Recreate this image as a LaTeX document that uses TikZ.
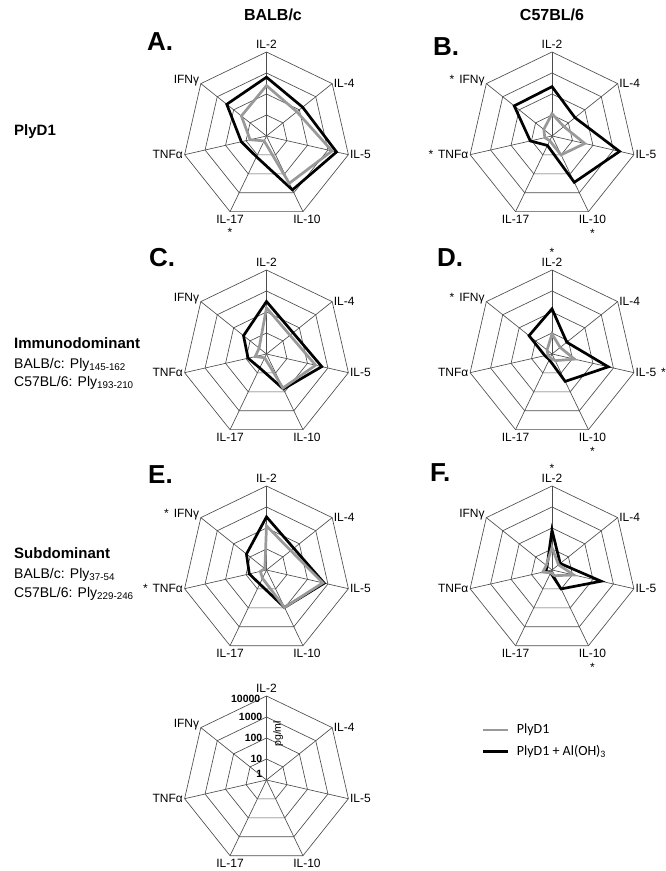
\documentclass[tikz,border=0pt]{standalone}
\usepackage{fontspec}
\setmainfont{Liberation Sans}
\newfontfamily\legendfont{Carlito}
\usetikzlibrary{positioning}

\begin{document}
\begin{tikzpicture}[
    x=1pt, y=1pt,
    grid/.style={draw=gray!60!black, line width=0.65pt},
    axlabel/.style={font=\fontsize{12}{14}\selectfont, inner sep=1.5pt},
    starmark/.style={font=\fontsize{12}{14}\selectfont, inner sep=0pt},
    plain/.style={draw=gray!80, line width=2.7pt},
    alum/.style={draw=black, line width=2.7pt},
    panel/.style={font=\fontsize{26}{28}\selectfont\bfseries, anchor=west, inner sep=0pt},
    strain/.style={font=\fontsize{16}{18}\selectfont\bfseries},
    group/.style={font=\fontsize{15}{17}\selectfont\bfseries, anchor=west, inner sep=0pt},
    peptide/.style={font=\fontsize{14}{16}\selectfont, anchor=west, inner sep=0pt},
    scalelabel/.style={font=\fontsize{10.5}{12}\selectfont\bfseries, anchor=east, inner sep=1pt, xshift=-3pt},
    legend/.style={font={\legendfont\fontsize{14}{16}\selectfont}, anchor=west, inner sep=0pt}
]
    \useasboundingbox (0,0) rectangle (666,871);

    % Column and row headings
    \node[strain] (balb) at (273,856) {BALB/c};
    \node[strain] (c57) at (552,856) {C57BL/6};
    \node[group] (plyd1) at (14,739) {PlyD1};
    \node[group] (immuno) at (14,528) {Immunodominant};
    \node[peptide] (immuno-balb) at (14,506) {BALB/c: Ply\textsubscript{145-162}};
    \node[peptide] (immuno-c57) at (14,488) {C57BL/6: Ply\textsubscript{193-210}};
    \node[group] (sub) at (14,318) {Subdominant};
    \node[peptide] (sub-balb) at (14,296) {BALB/c: Ply\textsubscript{37-54}};
    \node[peptide] (sub-c57) at (14,277) {C57BL/6: Ply\textsubscript{229-246}};

    % Panel letters
    \node[panel] (lA) at (147,829) {A.};
    \node[panel] (lB) at (433,824) {B.};
    \node[panel] (lC) at (149,613) {C.};
    \node[panel] (lD) at (437,613) {D.};
    \node[panel] (lE) at (148,396) {E.};
    \node[panel] (lF) at (430,398) {F.};

    % Radar grids with axis labels
    \foreach \pn/\px/\py in {A/266.5/735, B/552/735, C/266.5/517, D/552/517, E/266.5/301, F/552/301, G/266.5/91} {
        \begin{scope}[shift={(\px pt,\py pt)}, x=21pt, y=21pt]
            \coordinate (\pn-c) at (0,0);
            \foreach \r in {1,...,4}
                \draw[grid] (90:\r) \foreach \k in {1,...,6} { -- (90-\k*360/7:\r) } -- cycle;
            \foreach \k in {0,...,6}
                \draw[grid] (\pn-c) -- (90-\k*360/7:4);
            \node[axlabel, anchor=south, yshift=1.5pt] (\pn-il2) at (90:4) {IL-2};
            \node[axlabel, anchor=west] (\pn-il4) at (38.57:4) {IL-4};
            \node[axlabel, anchor=west] (\pn-il5) at (-12.86:4) {IL-5};
            \node[axlabel, anchor=north, xshift=4pt, yshift=-2pt] (\pn-il10) at (-64.29:4) {IL-10};
            \node[axlabel, anchor=north, yshift=-2pt] (\pn-il17) at (-115.71:4) {IL-17};
            \node[axlabel, anchor=east] (\pn-tnf) at (-167.14:4) {TNFα};
            \node[axlabel, anchor=east, yshift=3pt] (\pn-ifn) at (141.43:4) {IFNγ};
        \end{scope}
    }

    % Panel A: PlyD1, BALB/c
    \begin{scope}[shift={(A-c)}, x=21pt, y=21pt]
        \draw[alum] (90:2.8) -- (38.57:2.2) -- (-12.86:3.42) -- (-64.29:2.85) -- (-115.71:1.1) -- (-167.14:1.23) -- (141.43:2.42) -- cycle;
        \draw[plain] (90:2.4) -- (38.57:1.85) -- (-12.86:3.2) -- (-64.29:2.5) -- (-115.71:0.26) -- (-167.14:0.8) -- (141.43:1.53) -- cycle;
    \end{scope}

    % Panel B: PlyD1, C57BL/6
    \begin{scope}[shift={(B-c)}, x=21pt, y=21pt]
        \draw[alum] (90:2.35) -- (38.57:1.4) -- (-12.86:3.3) -- (-64.29:2.45) -- (-115.71:0.5) -- (-167.14:1.06) -- (141.43:2.3) -- cycle;
        \draw[plain] (90:1.06) -- (38.57:0.72) -- (-12.86:1.6) -- (-64.29:1.0) -- (-115.71:0.25) -- (-167.14:0.35) -- (141.43:0.5) -- cycle;
    \end{scope}

    % Panel C: immunodominant, BALB/c
    \begin{scope}[shift={(C-c)}, x=21pt, y=21pt]
        \draw[alum] (90:2.5) -- (38.57:1.62) -- (-12.86:2.7) -- (-64.29:1.85) -- (-115.71:0.74) -- (-167.14:0.9) -- (141.43:1.4) -- cycle;
        \draw[plain] (90:2.2) -- (38.57:1.43) -- (-12.86:2.4) -- (-64.29:1.8) -- (-115.71:0.2) -- (-167.14:0.55) -- (141.43:0.45) -- cycle;
    \end{scope}

    % Panel D: immunodominant, C57BL/6
    \begin{scope}[shift={(D-c)}, x=21pt, y=21pt]
        \draw[alum] (90:2.15) -- (38.57:0.9) -- (-12.86:2.75) -- (-64.29:1.45) -- (-115.71:0.3) -- (-167.14:0.35) -- (141.43:1.4) -- cycle;
        \draw[plain] (90:0.95) -- (38.57:0.5) -- (-12.86:1.1) -- (-64.29:0.35) -- (-115.71:0.2) -- (-167.14:0.2) -- (141.43:0.3) -- cycle;
    \end{scope}

    % Panel E: subdominant, BALB/c
    \begin{scope}[shift={(E-c)}, x=21pt, y=21pt]
        \draw[alum] (90:2.53) -- (38.57:1.66) -- (-12.86:2.82) -- (-64.29:1.98) -- (-115.71:0.74) -- (-167.14:0.84) -- (141.43:1.22) -- cycle;
        \draw[plain] (90:2.1) -- (38.57:1.48) -- (-12.86:2.75) -- (-64.29:1.98) -- (-115.71:0.44) -- (-167.14:0.3) -- (141.43:0.1) -- cycle;
    \end{scope}

    % Panel F: subdominant, C57BL/6
    \begin{scope}[shift={(F-c)}, x=21pt, y=21pt]
        \draw[alum] (90:1.9) -- (38.57:0.5) -- (-12.86:2.4) -- (-64.29:1.0) -- (-115.71:0.15) -- (-167.14:0.3) -- (141.43:0.3) -- cycle;
        \draw[plain] (90:1.07) -- (38.57:0.4) -- (-12.86:1.07) -- (-64.29:0.3) -- (-115.71:0.15) -- (-167.14:0.45) -- (141.43:0.35) -- cycle;
    \end{scope}

    % Scale of the blank grid
    \begin{scope}[shift={(G-c)}, x=21pt, y=21pt]
        \node[scalelabel, xshift=-2pt, yshift=-3pt] (G-s4) at (90:4) {10000};
        \node[scalelabel] (G-s3) at (90:3) {1000};
        \node[scalelabel] (G-s2) at (90:2) {100};
        \node[scalelabel] (G-s1) at (90:1) {10};
        \node[scalelabel] (G-s0) at (90:0.3) {1};
        \node[font=\fontsize{10.5}{12}\selectfont, rotate=90, inner sep=1pt] (G-unit) at (0.55,2.2) {pg/ml};
    \end{scope}

    % Significance marks
    \node[starmark, below=3pt of A-il17] (A-st17) {*};
    \node[starmark, left=3pt of B-ifn.base west, anchor=base east] (B-stifn) {*};
    \node[starmark, left=3pt of B-tnf.base west, anchor=base east] (B-sttnf) {*};
    \node[starmark, below=3pt of B-il10] (B-st10) {*};
    \node[starmark, above=0pt of D-il2] (D-st2) {*};
    \node[starmark, left=3pt of D-ifn.base west, anchor=base east] (D-stifn) {*};
    \node[starmark, right=3pt of D-il5.base east, anchor=base west] (D-st5) {*};
    \node[starmark, below=3pt of D-il10] (D-st10) {*};
    \node[starmark, left=3pt of E-ifn.base west, anchor=base east] (E-stifn) {*};
    \node[starmark, left=3pt of E-tnf.base west, anchor=base east] (E-sttnf) {*};
    \node[starmark, above=0pt of F-il2] (F-st2) {*};
    \node[starmark, below=3pt of F-il10] (F-st10) {*};

    % Legend
    \node[legend] (leg-plain) at (516.7,141) {PlyD1};
    \node[legend] (leg-alum) at (516.7,119.3) {PlyD1 + Al(OH)\textsubscript{3}};
    \draw[plain, line width=2.8pt] ([xshift=-9pt]leg-plain.west) -- ++(-25pt,0);
    \draw[alum, line width=2.8pt] ([xshift=-9pt]leg-alum.west) -- ++(-25pt,0);
\end{tikzpicture}
\end{document}
